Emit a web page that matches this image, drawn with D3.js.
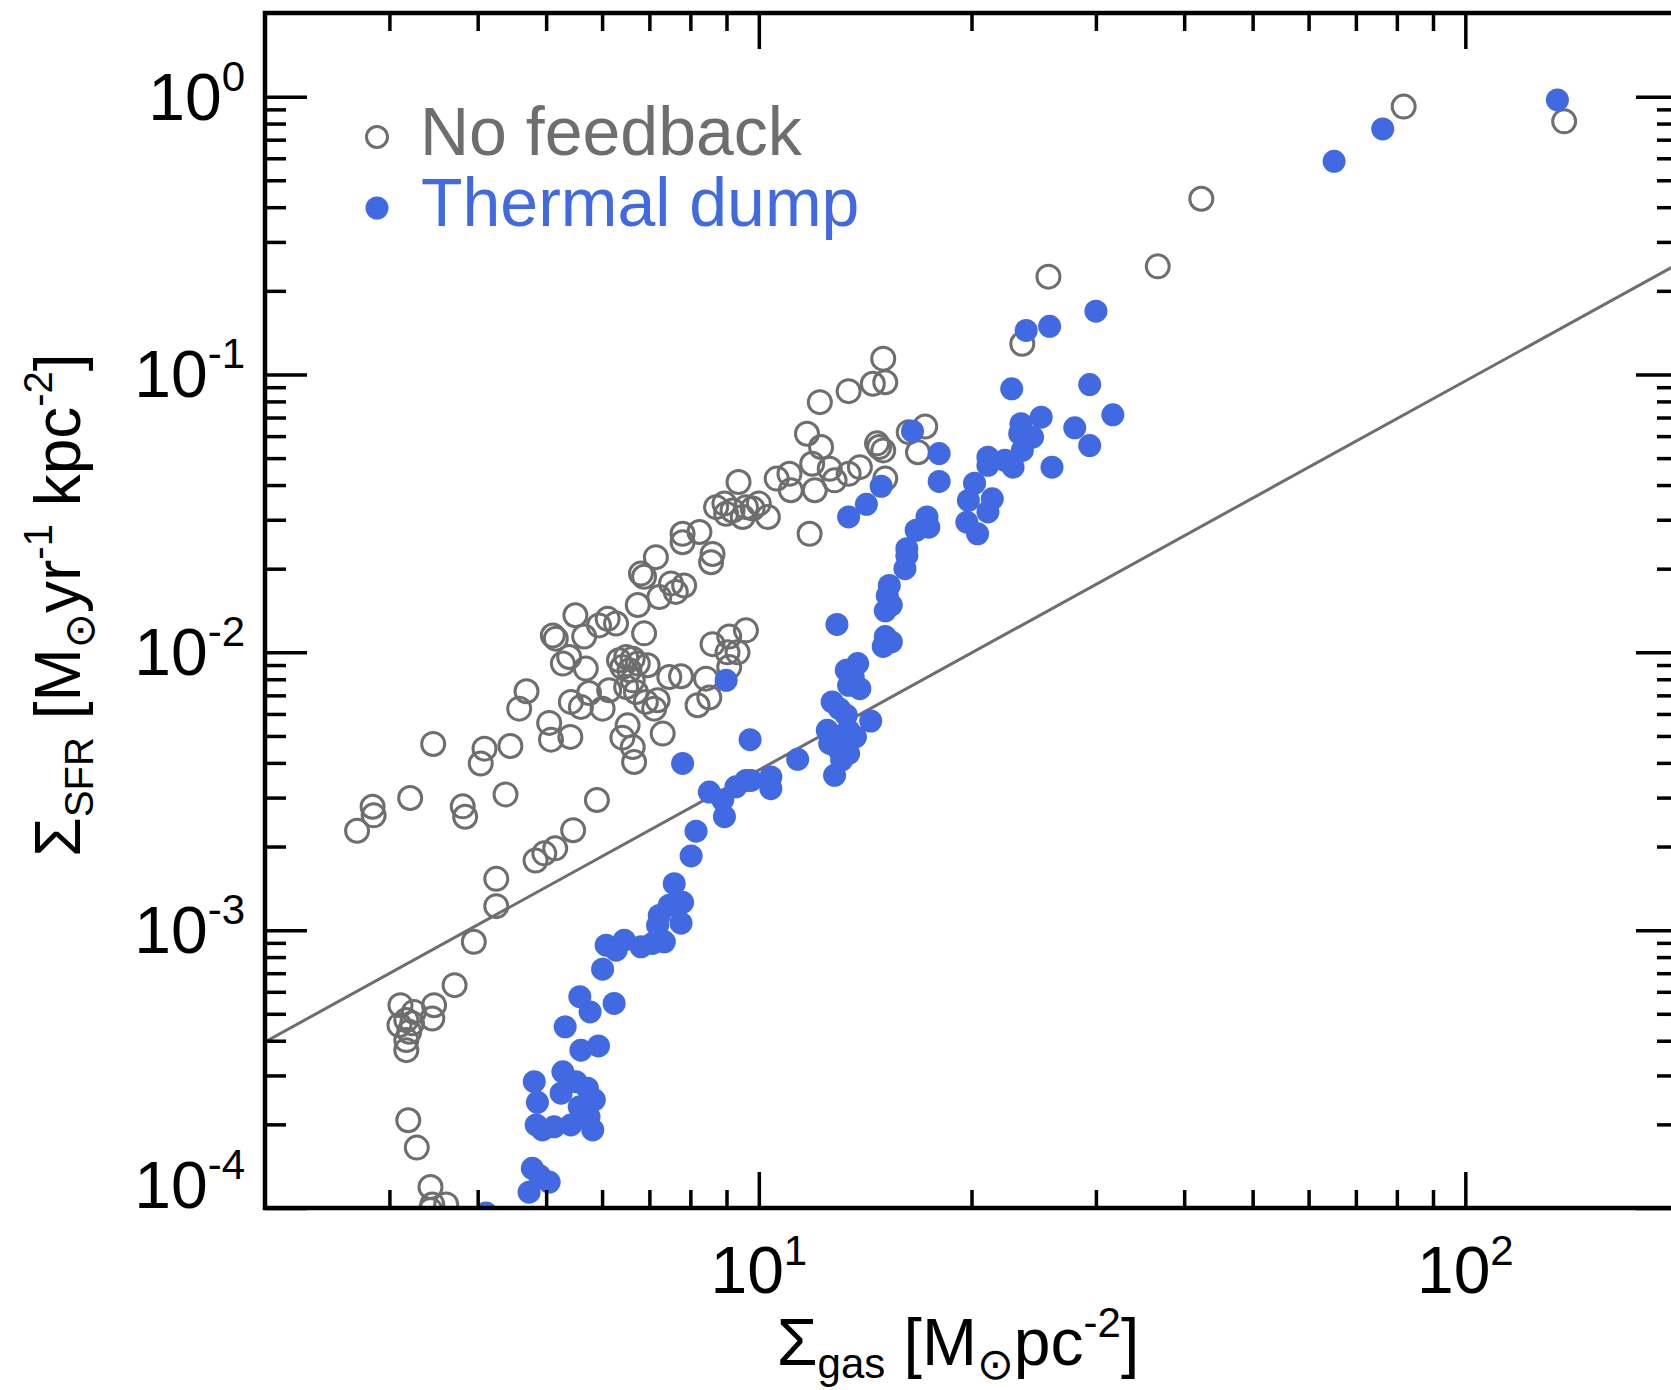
<!DOCTYPE html>
<meta charset="utf-8">
<script src="https://d3js.org/d3.v7.min.js"></script>
<style>
  body { margin: 0; background: #ffffff; overflow: hidden; }
  svg { display: block; font-family: "Liberation Sans", Arial, Helvetica, sans-serif; }
</style>
<div id="my_dataviz"></div>

<script>
    // No feedback run (open circles)
    var noFbGas = [2.70, 2.84, 2.85, 3.21, 3.46, 3.81, 3.84, 4.09, 4.04, 4.45, 4.38, 4.69, 4.58, 5.05, 5.08, 5.41, 4.25, 4.25, 3.95, 4.83,
        4.97, 5.15, 5.46, 5.90, 3.71, 3.11, 3.25, 3.17, 3.10, 3.23, 3.20, 3.17, 3.17, 3.47, 3.45, 3.19, 3.28, 3.43, 3.45, 3.61, 3.43,
        5.50, 5.16, 5.11, 5.66, 5.94, 6.11, 6.28, 6.88, 5.28, 5.39, 6.34, 6.49, 6.63, 6.74, 6.56, 6.41, 6.96, 6.63, 6.70, 6.49,
        6.14, 6.01, 5.42, 5.60, 5.75, 6.52, 6.41, 6.63, 6.66, 6.92, 7.11, 7.19, 7.31, 7.47, 7.76, 8.19, 8.51, 8.42, 8.60, 9.08,
        9.03, 9.33, 9.08, 9.59, 5.69,
        12.2, 11.7, 11.9, 12.0, 11.8, 9.36, 10.6, 11.05, 11.1, 8.70, 8.94, 9.18, 9.49, 9.80, 10.0, 10.3, 8.99, 9.59, 7.80, 8.24,
        7.80, 8.60, 8.56, 7.15, 6.81, 6.88, 7.51, 7.84, 7.63, 7.23, 6.74,
        15.0, 15.1, 14.5, 13.4, 12.25, 12.6, 13.9, 13.4, 12.8, 14.8, 15.0, 14.7, 16.3, 17.2, 16.8, 15.1, 23.6, 25.7, 36.7, 42.3,
        81.8, 138];
    var noFbSfr = [2.28e-3, 2.78e-3, 2.59e-3, 2.99e-3, 4.68e-3, 2.79e-3, 2.56e-3, 4.50e-3, 3.98e-3, 4.60e-3, 3.08e-3, 7.24e-3, 6.27e-3, 5.57e-3, 4.85e-3, 4.96e-3, 1.53e-3, 1.22e-3, 9.08e-4, 1.78e-3,
        1.89e-3, 1.97e-3, 2.29e-3, 2.94e-3, 6.34e-4, 5.37e-4, 5.08e-4, 4.75e-4, 4.55e-4, 4.62e-4, 4.31e-4, 4.02e-4, 3.70e-4, 5.37e-4, 4.81e-4, 2.07e-4, 1.65e-4, 1.19e-4, 1.03e-4, 1.03e-4, 9.83e-5,
        1.36e-2, 1.12e-2, 1.15e-2, 1.14e-2, 1.25e-2, 1.32e-2, 1.27e-2, 1.17e-2, 9.11e-3, 9.62e-3, 9.36e-3, 9.62e-3, 9.49e-3, 9.11e-3, 8.62e-3, 8.85e-3, 8.98e-3, 7.93e-3, 7.20e-3, 7.50e-3,
        7.30e-3, 6.27e-3, 6.63e-3, 6.36e-3, 7.14e-3, 5.46e-3, 4.93e-3, 4.56e-3, 4.03e-3, 6.63e-3, 6.27e-3, 6.72e-3, 5.10e-3, 8.15e-3, 8.20e-3, 6.45e-3, 6.88e-3, 8.04e-3, 1.07e-2, 1.14e-2,
        1.00e-2, 1.00e-2, 8.85e-3, 1.20e-2, 8.74e-3,
        7.95e-2, 6.12e-2, 4.77e-2, 3.83e-2, 2.67e-2, 4.10e-2, 4.22e-2, 4.39e-2, 3.83e-2, 3.33e-2, 3.43e-2, 3.24e-2, 3.07e-2, 3.29e-2, 3.43e-2, 3.07e-2, 3.15e-2, 3.33e-2, 2.67e-2, 2.71e-2,
        2.49e-2, 2.26e-2, 2.11e-2, 2.20e-2, 1.92e-2, 1.87e-2, 1.77e-2, 1.74e-2, 1.65e-2, 1.58e-2, 1.48e-2,
        0.114, 9.38e-2, 9.26e-2, 8.71e-2, 5.48e-2, 4.58e-2, 4.64e-2, 4.39e-2, 4.16e-2, 5.48e-2, 5.33e-2, 5.65e-2, 6.20e-2, 6.50e-2, 5.25e-2, 4.22e-2, 0.129, 0.225, 0.245, 0.429,
        0.921, 0.815];

    // Thermal dump run (filled dots)
    var thermGas = [4.11, 4.73, 4.78, 5.05, 4.89, 4.81, 4.86, 4.84, 4.94, 5.13, 5.28, 5.25, 5.51, 5.72, 5.85, 5.57, 5.42, 5.75, 5.82, 5.60,
        5.93, 5.32, 5.58, 5.77, 6.24, 6.01, 6.08, 6.45, 6.28, 6.81, 7.07, 7.35, 7.23, 7.47, 7.80, 7.76, 7.19, 7.59, 8.02, 8.15,
        8.51, 8.89, 8.94, 9.28, 9.59, 9.75, 10.4, 10.4, 9.72, 7.80, 8.99, 11.35, 12.8, 12.5, 12.6, 13.0, 13.4, 13.7, 13.0, 13.4,
        13.1, 12.7, 13.0, 13.3, 14.4, 13.8, 13.3, 13.6, 13.4, 13.9, 12.9, 15.1, 15.4, 15.0, 15.3, 15.2, 15.4, 15.1, 16.1, 16.2,
        16.2, 17.3, 17.4, 16.7, 19.7, 20.4, 21.4, 21.1, 19.8, 20.2, 18.0, 18.0, 16.5, 14.9, 14.2, 13.4, 21.1, 22.3, 22.9, 21.1,
        26.0, 23.5, 23.4, 24.4, 23.6, 25.1, 28.0, 29.4, 31.7, 29.4, 22.8, 23.9, 25.8, 30.0, 65.2, 76.4, 135];
    var thermSfr = [9.6e-5, 1.14e-4, 1.39e-4, 1.24e-4, 1.31e-4, 2.85e-4, 2.40e-4, 1.99e-4, 1.91e-4, 1.96e-4, 3.09e-4, 2.59e-4, 2.85e-4, 2.70e-4, 2.45e-4, 2.31e-4, 1.99e-4, 2.13e-4, 1.91e-4, 3.70e-4,
        3.83e-4, 4.49e-4, 5.76e-4, 5.08e-4, 5.45e-4, 7.24e-4, 8.83e-4, 9.20e-4, 8.47e-4, 8.71e-4, 8.96e-4, 9.08e-4, 1.13e-3, 1.23e-3, 1.26e-3, 1.06e-3, 1.04e-3, 1.47e-3, 1.85e-3, 2.27e-3,
        3.14e-3, 2.94e-3, 2.56e-3, 3.28e-3, 3.46e-3, 3.46e-3, 3.56e-3, 3.23e-3, 4.85e-3, 3.98e-3, 7.93e-3, 4.12e-3, 3.61e-3, 5.24e-3, 4.70e-3, 4.96e-3, 5.24e-3, 4.96e-3, 4.44e-3, 4.32e-3,
        4.09e-3, 6.63e-3, 6.27e-3, 5.94e-3, 5.66e-3, 9.11e-3, 8.62e-3, 8.15e-3, 7.61e-3, 7.40e-3, 1.26e-2, 1.14e-2, 1.09e-2, 1.05e-2, 1.74e-2, 1.60e-2, 1.48e-2, 1.41e-2, 2.00e-2, 2.36e-2,
        2.23e-2, 3.07e-2, 2.82e-2, 2.75e-2, 2.94e-2, 2.67e-2, 3.57e-2, 3.20e-2, 3.52e-2, 4.06e-2, 4.12e-2, 5.19e-2, 6.25e-2, 3.96e-2, 3.41e-2, 3.07e-2, 5.04e-2, 4.91e-2, 4.64e-2, 4.71e-2,
        4.64e-2, 6.65e-2, 6.12e-2, 5.95e-2, 5.33e-2, 7.02e-2, 6.43e-2, 5.55e-2, 7.16e-2, 9.20e-2, 8.88e-2, 0.144, 0.149, 0.169, 0.585, 0.765, 0.973];

    // reference relation drawn as a straight grey line (end points)
    var ksGas = [2, 200];
    var ksSfr = [3.96e-4, 0.25];

    var xDomain = [2, 200];
    var yDomain = [1e-4, 2];
    var xMajor = [10, 100];
    var xMajorExp = ["1", "2"];
    var yMajor = [1e-4, 1e-3, 1e-2, 1e-1, 1];
    var yMajorExp = ["-4", "-3", "-2", "-1", "0"];
    var legendLabels = ["No feedback", "Thermal dump"];

    var grey = "#6e6e6e",
        blue = "#4169e1";

    var margin = {top: 13, left: 265},
        width = 1413,
        height = 1195;

    var svg = d3.select("#my_dataviz")
        .append("svg")
            .attr("width", 1671)
            .attr("height", 1390);

    var g = svg.append("g")
        .attr("transform", "translate(" + margin.left + "," + margin.top + ")");

    var x = d3.scaleLog().domain(xDomain).range([0, width]),
        y = d3.scaleLog().domain(yDomain).range([height, 0]);

    g.append("clipPath").attr("id", "plotclip")
        .append("rect").attr("width", width).attr("height", height);

    var plot = g.append("g").attr("clip-path", "url(#plotclip)");

    plot.append("path")
        .datum(d3.zip(ksGas, ksSfr))
        .attr("fill", "none")
        .attr("stroke", grey)
        .attr("stroke-width", 3)
        .attr("d", d3.line().x(function(d) { return x(d[0]); }).y(function(d) { return y(d[1]); }));

    plot.selectAll(".nofb")
        .data(d3.zip(noFbGas, noFbSfr))
      .enter().append("circle")
        .attr("class", "nofb")
        .attr("cx", function(d) { return x(d[0]); })
        .attr("cy", function(d) { return y(d[1]); })
        .attr("r", 11.5)
        .attr("fill", "none")
        .attr("stroke", grey)
        .attr("stroke-width", 3);

    plot.selectAll(".therm")
        .data(d3.zip(thermGas, thermSfr))
      .enter().append("circle")
        .attr("class", "therm")
        .attr("cx", function(d) { return x(d[0]); })
        .attr("cy", function(d) { return y(d[1]); })
        .attr("r", 11.5)
        .attr("fill", blue);

    // ticks: majors and minors on all four sides, pointing inwards
    function isDecade(v) {
        var l = Math.log10(v);
        return Math.abs(l - Math.round(l)) < 1e-6;
    }
    var xMinor = x.ticks().filter(function(v) { return !isDecade(v) && v > xDomain[0] && v < xDomain[1]; });
    var yMinor = y.ticks().filter(function(v) { return !isDecade(v) && v > yDomain[0] && v < yDomain[1]; });

    function tickAxis(axis, pos, values, len) {
        var a = g.append("g")
            .attr("transform", pos)
            .call(axis.tickValues(values).tickSize(-len).tickFormat(""));
        a.select(".domain").remove();
        a.selectAll("line").attr("stroke", "#000").attr("stroke-width", 3.5);
    }
    tickAxis(d3.axisBottom(x), "translate(0," + height + ")", xMajor, 36);
    tickAxis(d3.axisBottom(x), "translate(0," + height + ")", xMinor, 18);
    tickAxis(d3.axisTop(x), "translate(0,0)", xMajor, 36);
    tickAxis(d3.axisTop(x), "translate(0,0)", xMinor, 18);
    tickAxis(d3.axisLeft(y), "translate(0,0)", yMajor, 42);
    tickAxis(d3.axisLeft(y), "translate(0,0)", yMinor, 21);
    tickAxis(d3.axisRight(y), "translate(" + width + ",0)", yMajor, 42);
    tickAxis(d3.axisRight(y), "translate(" + width + ",0)", yMinor, 21);

    g.append("rect")
        .attr("width", width)
        .attr("height", height)
        .attr("fill", "none")
        .attr("stroke", "#000")
        .attr("stroke-width", 4.5);

    // tick labels 10^n
    g.selectAll(".xlab")
        .data(xMajor)
      .enter().append("text")
        .attr("class", "xlab")
        .attr("x", function(d) { return x(d); })
        .attr("y", height + 85)
        .attr("text-anchor", "middle")
        .attr("font-size", 66)
        .each(function(d, i) {
            var t = d3.select(this);
            t.append("tspan").text("10");
            t.append("tspan").attr("dy", -28).attr("font-size", 42).text(xMajorExp[i]);
        });

    g.selectAll(".ylab")
        .data(yMajor)
      .enter().append("text")
        .attr("class", "ylab")
        .attr("x", -20)
        .attr("y", function(d) { return Math.min(y(d) + 23, height); })
        .attr("text-anchor", "end")
        .attr("font-size", 66)
        .each(function(d, i) {
            var t = d3.select(this);
            t.append("tspan").text("10");
            t.append("tspan").attr("dy", -29).attr("font-size", 42).text(yMajorExp[i]);
        });

    // rich text helper for the axis titles
    function richText(sel, parts, small) {
        var shift = 0;
        parts.forEach(function(p) {
            var target = p[1] === "sub" ? 13 : p[1] === "sup" ? -28 : p[1] === "sun" ? 14 : 0;
            var ts = sel.append("tspan").attr("dy", target - shift).text(p[0]);
            if (p[1] === "sun") ts.attr("font-family", "DejaVu Sans").attr("font-size", small + 2);
            else if (p[1]) ts.attr("font-size", small);
            shift = target;
        });
    }

    var xTitle = svg.append("text")
        .attr("x", 958)
        .attr("y", 1365)
        .attr("text-anchor", "middle")
        .attr("font-size", 66);
    richText(xTitle, [["\u03a3"], ["gas", "sub"], ["\u00a0[M"], ["\u2299", "sun"], ["pc"], ["-2", "sup"], ["]"]], 42);

    var yTitle = svg.append("text")
        .attr("transform", "translate(80,605) rotate(-90)")
        .attr("text-anchor", "middle")
        .attr("font-size", 64);
    richText(yTitle, [["\u03a3"], ["SFR", "sub"], ["\u00a0[M"], ["\u2299", "sun"], ["yr"], ["-1", "sup"], ["\u00a0kpc"], ["-2", "sup"], ["]"]], 40);

    // legend
    svg.append("circle")
        .attr("cx", 377).attr("cy", 137).attr("r", 10.5)
        .attr("fill", "none").attr("stroke", grey).attr("stroke-width", 3);
    svg.append("circle")
        .attr("cx", 377).attr("cy", 208).attr("r", 11.5)
        .attr("fill", blue);
    svg.append("text")
        .attr("x", 420).attr("y", 155)
        .attr("font-size", 68).attr("fill", grey)
        .text(legendLabels[0]);
    svg.append("text")
        .attr("x", 421).attr("y", 226)
        .attr("font-size", 68).attr("fill", blue)
        .text(legendLabels[1]);
</script>
